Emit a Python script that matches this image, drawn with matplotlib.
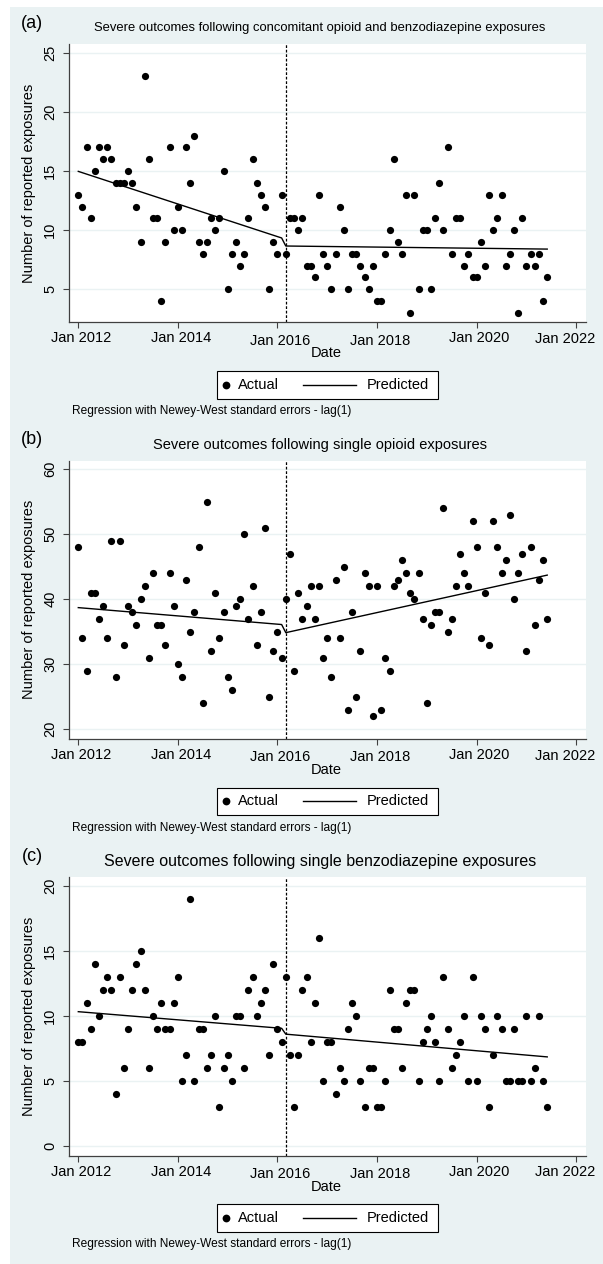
import numpy as np
import pandas as pd
import matplotlib
matplotlib.use('Agg')
import matplotlib.pyplot as plt
from matplotlib.patches import Rectangle
from matplotlib.lines import Line2D
from matplotlib.transforms import ScaledTranslation

plt.rcParams['font.family'] = ['Liberation Sans', 'DejaVu Sans']

# monthly counts, Jan 2012 - Jun 2021
months = pd.period_range('2012-01', '2021-06', freq='M')
t = np.arange(len(months))  # months since Jan 2012

concomitant = [13, 12, 17, 11, 15, 17, 16, 17, 16, 14,
               14, 14, 15, 14, 12, 9, 23, 16, 11, 11,
               4, 9, 17, 10, 12, 10, 17, 14, 18, 9,
               8, 9, 11, 10, 11, 15, 5, 8, 9, 7,
               8, 11, 16, 14, 13, 12, 5, 9, 8, 13,
               8, 11, 11, 10, 11, 7, 7, 6, 13, 8,
               7, 5, 8, 12, 10, 5, 8, 8, 7, 6,
               5, 7, 4, 4, 8, 10, 16, 9, 8, 13,
               3, 13, 5, 10, 10, 5, 11, 14, 10, 17,
               8, 11, 11, 7, 8, 6, 6, 9, 7, 13,
               10, 11, 13, 7, 8, 10, 3, 11, 7, 8,
               7, 8, 4, 6]

single_opioid = [48, 34, 29, 41, 41, 37, 39, 34, 49, 28,
                 49, 33, 39, 38, 36, 40, 42, 31, 44, 36,
                 36, 33, 44, 39, 30, 28, 43, 35, 38, 48,
                 24, 55, 32, 41, 34, 38, 28, 26, 39, 40,
                 50, 37, 42, 33, 38, 51, 25, 32, 35, 31,
                 40, 47, 29, 41, 37, 39, 42, 37, 42, 31,
                 34, 28, 43, 34, 45, 23, 38, 25, 32, 44,
                 42, 22, 42, 23, 31, 29, 42, 43, 46, 44,
                 41, 40, 44, 37, 24, 36, 38, 38, 54, 35,
                 37, 42, 47, 44, 42, 52, 48, 34, 41, 33,
                 52, 48, 44, 46, 53, 40, 44, 47, 32, 48,
                 36, 43, 46, 37]

single_benzo = [8, 8, 11, 9, 14, 10, 12, 13, 12, 4,
                13, 6, 9, 12, 14, 15, 12, 6, 10, 9,
                11, 9, 9, 11, 13, 5, 7, 19, 5, 9,
                9, 6, 7, 10, 3, 6, 7, 5, 10, 10,
                6, 12, 13, 10, 11, 12, 7, 14, 9, 8,
                13, 7, 3, 7, 12, 13, 8, 11, 16, 5,
                8, 8, 4, 6, 5, 9, 11, 10, 5, 3,
                6, 6, 3, 3, 5, 12, 9, 9, 6, 11,
                12, 12, 5, 8, 9, 10, 8, 5, 13, 9,
                6, 7, 8, 10, 5, 13, 5, 10, 9, 3,
                7, 10, 9, 5, 5, 9, 5, 5, 10, 5,
                6, 10, 5, 3]

# fitted interrupted time series (values at the ends of each segment)
pred_t = [0, 49, 50, 113]
pred_concomitant = [14.97, 9.34, 8.66, 8.40]
pred_opioid = [38.7, 36.1, 34.85, 43.7]
pred_benzo = [10.33, 9.05, 8.6, 6.85]

break_month = 50  # Mar 2016
tick_months = [0, 24, 48, 72, 96, 120]
tick_labels = ['Jan 2012', 'Jan 2014', 'Jan 2016', 'Jan 2018', 'Jan 2020', 'Jan 2022']

panels = [
    ('(a)', 'Severe outcomes following concomitant opioid and benzodiazepine exposures',
     concomitant, pred_concomitant, (2.21, 25.74), [5, 10, 15, 20, 25], 9.4),
    ('(b)', 'Severe outcomes following single opioid exposures',
     single_opioid, pred_opioid, (18.5, 61.3), [20, 30, 40, 50, 60], 10.5),
    ('(c)', 'Severe outcomes following single benzodiazepine exposures',
     single_benzo, pred_benzo, (-0.75, 20.67), [0, 5, 10, 15, 20], 11.5),
]

# horizontal nudges of the date labels (px), as placed in the original
label_dx = [3, 3, 3, 3, 3, -11]
label_dy = [0, 0, -2.3, -2.3, 0, -0.7]

W, H = 603, 1264
bg = '#EAF2F3'
axcol = '#404040'
note = 'Regression with Newey-West standard errors - lag(1)'

fig = plt.figure(figsize=(W / 100, H / 100), dpi=100)
fig.patches.append(Rectangle((10 / W, 0), 1 - 10 / W, 1 - 7 / H, transform=fig.transFigure,
                             facecolor=bg, edgecolor='none', zorder=-10))


def fx(px):
    return px / W


def fy(py):
    return 1 - py / H


for i, (tag, title, y, pred, ylim, yticks, tsize) in enumerate(panels):
    top = 44 + 416.67 * i
    bottom = top + 278.3
    ax = fig.add_axes([fx(69), fy(bottom), 516.7 / W, 278.3 / H])
    ax.set_facecolor('white')
    ax.scatter(t, y, s=27, color='black', linewidths=0, zorder=3)
    ax.plot(pred_t, pred, color='black', lw=1.0, zorder=2)
    ax.axvline(break_month, color='black', lw=0.9, ls=(0, (2.2, 1.4)), zorder=2)
    ax.set_xlim(-2.24, 122.27)
    ax.set_ylim(*ylim)
    ax.set_yticks(yticks)
    ax.set_xticks(tick_months, tick_labels)
    ax.grid(axis='y', color=bg, lw=1.0)
    ax.set_axisbelow(True)
    for s in ['top', 'right']:
        ax.spines[s].set_visible(False)
    for s in ['left', 'bottom']:
        ax.spines[s].set_color(axcol)
        ax.spines[s].set_linewidth(0.9)
    ax.tick_params(length=4.5, width=0.8, color=axcol, labelsize=10.5, pad=2)
    ax.tick_params(axis='y', pad=4)
    for lab in ax.get_yticklabels():
        lab.set_rotation(90)
        lab.set_va('center')
    for lab, dx, dy in zip(ax.get_xticklabels(), label_dx, label_dy):
        lab.set_transform(lab.get_transform() + ScaledTranslation(dx / 100, dy / 100, fig.dpi_scale_trans))

    fig.text(fx(29), fy((top + bottom) / 2), 'Number of reported exposures', rotation=90,
             ha='center', va='center', fontsize=10.5)
    fig.text(fx(326.7), fy(bottom + 31), 'Date', ha='center', va='center', fontsize=10.5)
    fig.text(fx(320), fy(top - 16), title, ha='center', va='center', fontsize=tsize)
    fig.text(fx(32), fy(top - 21), tag, ha='center', va='center', fontsize=13)

    # legend
    ly = bottom + 62.5
    fig.patches.append(Rectangle((fx(216.7), fy(bottom + 76.4)), 221 / W, 27.7 / H,
                                 transform=fig.transFigure, facecolor='white',
                                 edgecolor='black', lw=0.8))
    fig.lines.append(Line2D([fx(226)], [fy(ly)], transform=fig.transFigure, marker='o',
                            markersize=5.6, color='black', markeredgewidth=0, ls='none'))
    fig.text(fx(238), fy(ly), 'Actual', ha='left', va='center', fontsize=10.5)
    fig.lines.append(Line2D([fx(303), fx(356)], [fy(ly), fy(ly)], transform=fig.transFigure,
                            color='black', lw=1.0))
    fig.text(fx(366.7), fy(ly), 'Predicted', ha='left', va='center', fontsize=10.5)
    fig.text(fx(71.7), fy(bottom + 88.7), note, ha='left', va='center', fontsize=8.6)

fig.savefig('out.png', dpi=100)
